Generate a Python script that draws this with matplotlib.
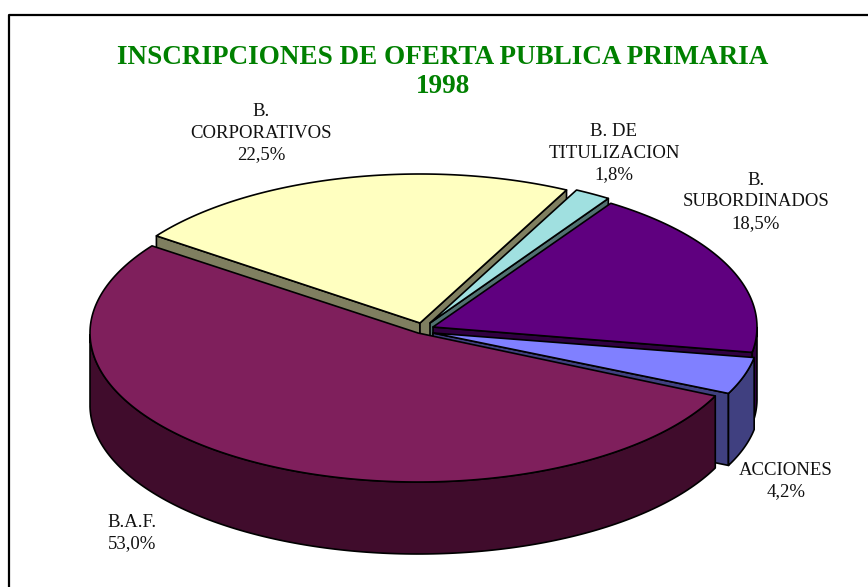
import numpy as np
import matplotlib
matplotlib.use('Agg')
import matplotlib.pyplot as plt

plt.rcParams['font.family'] = ['Liberation Serif', 'DejaVu Serif']

title = 'INSCRIPCIONES DE OFERTA PUBLICA PRIMARIA\n1998'
names = ['B.A.F.', 'B.\nCORPORATIVOS', 'B. DE\nTITULIZACION', 'B.\nSUBORDINADOS', 'ACCIONES']
values = [53.0, 22.5, 1.8, 18.5, 4.2]
value_labels = ['53,0%', '22,5%', '1,8%', '18,5%', '4,2%']

top_colors = ['#7f1f5c', '#ffffc0', '#a0e0e0', '#5f007f', '#8080ff']
side_colors = ['#400c2c', '#7f7f60', '#507070', '#300040', '#404080']

# apex of each slice and its radii, in pixels
apex = [(418, 333), (420, 323), (430, 323), (433, 327), (433, 333)]
rx = [328, 325, 325, 324, 326]
ry = [149, 149, 149, 148, 143]
depth = 72
start_angle = -25  # slices run clockwise from here
label_pos = [(132, 533), (261, 133), (614, 153), (756, 202), (786, 481)]
# back slices first, the big front one last
draw_order = [1, 2, 3, 4, 0]

fig = plt.figure(figsize=(8.68, 5.87), dpi=100)
ax = fig.add_axes([0, 0, 1, 1])
ax.set_xlim(0, 868)
ax.set_ylim(587, 0)
ax.axis('off')

# frame of the chart area, only top and left are inside the picture
ax.plot([9, 9, 868], [587, 15, 15], color='black', lw=1.6, zorder=0)

spans = np.array(values) / sum(values) * 360
ends = start_angle - np.cumsum(spans)
starts = ends + spans


def ellipse_xy(i, angles):
    t = np.radians(angles)
    return apex[i][0] + rx[i] * np.cos(t), apex[i][1] - ry[i] * np.sin(t)


def draw_slice(i):
    t0, t1 = starts[i], ends[i]
    style = dict(edgecolor='black', linewidth=1.2, joinstyle='round')

    # cut faces, only the ones turned to the viewer
    for ang, visible in [(t0, np.cos(np.radians(t0)) < 0), (t1, np.cos(np.radians(t1)) > 0)]:
        if visible:
            x, y = ellipse_xy(i, np.array([ang]))
            px = [apex[i][0], x[0], x[0], apex[i][0]]
            py = [apex[i][1], y[0], y[0] + depth, apex[i][1] + depth]
            ax.fill(px, py, facecolor=side_colors[i], **style)

    # outer wall, lower half of the ellipse only
    angles = np.linspace(t0, t1, 200)
    front = angles[np.sin(np.radians(angles)) < 0]
    if len(front) > 1:
        x, y = ellipse_xy(i, front)
        ax.fill(np.r_[x, x[::-1]], np.r_[y, y[::-1] + depth],
                facecolor=side_colors[i], **style)

    # top
    x, y = ellipse_xy(i, angles)
    ax.fill(np.r_[apex[i][0], x], np.r_[apex[i][1], y], facecolor=top_colors[i], **style)


for i in draw_order:
    draw_slice(i)

ax.text(443, 72, title, ha='center', va='center', color='#008000', fontsize=19.5,
        fontweight='bold', linespacing=1.19)

for i in range(len(names)):
    ax.text(label_pos[i][0], label_pos[i][1], names[i] + '\n' + value_labels[i],
            ha='center', va='center', fontsize=13.5, color='#111111', linespacing=1.38)

fig.savefig('out.png', dpi=100, facecolor='white')
